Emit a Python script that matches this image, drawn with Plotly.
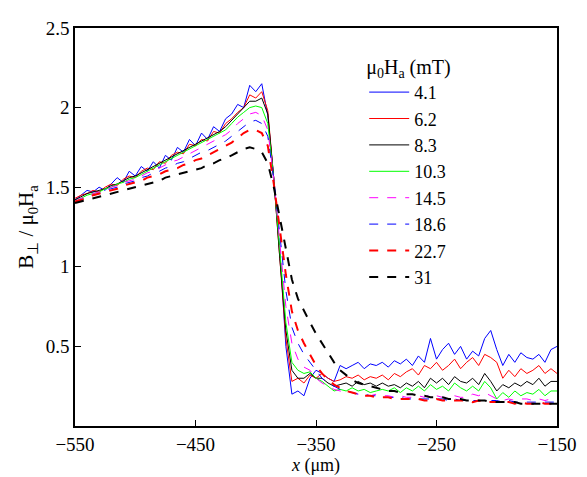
import numpy as np
import plotly.graph_objects as go

x_um = list(range(-550, -149, 5))

b_4_1 = [1.42,1.45,1.48,1.47,1.50,1.48,1.52,1.56,1.53,1.60,
         1.57,1.63,1.60,1.66,1.62,1.70,1.67,1.75,1.72,1.80,
         1.76,1.84,1.80,1.88,1.85,1.93,1.96,2.02,2.00,2.14,
         2.10,2.15,1.95,1.55,1.10,0.50,0.20,0.22,0.19,0.30,
         0.35,0.33,0.30,0.28,0.38,0.36,0.38,0.40,0.36,0.39,
         0.38,0.40,0.37,0.41,0.39,0.42,0.38,0.44,0.40,0.55,
         0.42,0.48,0.52,0.45,0.50,0.42,0.47,0.44,0.55,0.60,
         0.48,0.38,0.45,0.40,0.46,0.43,0.42,0.45,0.40,0.48,
         0.50]
b_6_2 = [1.43,1.45,1.46,1.48,1.47,1.50,1.52,1.51,1.55,1.57,
         1.56,1.60,1.62,1.61,1.66,1.65,1.70,1.72,1.71,1.77,
         1.76,1.80,1.79,1.85,1.84,1.90,1.93,1.97,2.00,2.08,
         2.06,2.10,1.98,1.55,1.05,0.55,0.28,0.30,0.27,0.32,
         0.30,0.33,0.30,0.28,0.29,0.31,0.30,0.32,0.29,0.31,
         0.30,0.32,0.29,0.33,0.31,0.34,0.36,0.32,0.38,0.36,
         0.40,0.35,0.38,0.42,0.36,0.40,0.43,0.38,0.45,0.43,
         0.40,0.30,0.35,0.31,0.36,0.33,0.35,0.38,0.33,0.36,
         0.33]
b_8_3 = [1.42,1.44,1.46,1.47,1.48,1.49,1.51,1.52,1.54,1.56,
         1.57,1.59,1.61,1.63,1.65,1.67,1.69,1.71,1.73,1.75,
         1.77,1.79,1.81,1.83,1.85,1.88,1.92,1.96,2.00,2.04,
         2.04,2.06,1.96,1.55,1.05,0.60,0.35,0.30,0.30,0.33,
         0.30,0.30,0.27,0.25,0.26,0.27,0.25,0.28,0.26,0.27,
         0.25,0.27,0.25,0.26,0.24,0.27,0.25,0.28,0.24,0.30,
         0.27,0.30,0.26,0.31,0.28,0.27,0.30,0.26,0.33,0.28,
         0.22,0.26,0.24,0.27,0.25,0.28,0.26,0.30,0.25,0.28,
         0.28]
b_10_3 = [1.41,1.43,1.45,1.46,1.47,1.49,1.50,1.52,1.53,1.55,
          1.56,1.58,1.60,1.62,1.64,1.66,1.68,1.70,1.72,1.74,
          1.76,1.78,1.80,1.82,1.84,1.86,1.90,1.94,1.97,2.00,
          2.01,2.00,1.90,1.55,1.10,0.65,0.40,0.35,0.33,0.34,
          0.30,0.28,0.25,0.22,0.23,0.22,0.24,0.22,0.23,0.21,
          0.22,0.23,0.22,0.24,0.21,0.24,0.22,0.25,0.22,0.26,
          0.23,0.25,0.22,0.27,0.24,0.22,0.25,0.22,0.28,0.24,
          0.17,0.21,0.18,0.22,0.19,0.21,0.20,0.23,0.19,0.22,
          0.22]
b_14_5 = [1.41,1.43,1.44,1.46,1.47,1.48,1.50,1.51,1.53,1.54,
          1.55,1.57,1.59,1.60,1.62,1.64,1.66,1.67,1.69,1.71,
          1.73,1.75,1.77,1.79,1.81,1.83,1.86,1.90,1.93,1.96,
          1.97,1.95,1.86,1.55,1.15,0.75,0.52,0.42,0.37,0.35,
          0.30,0.27,0.25,0.23,0.22,0.21,0.21,0.20,0.20,0.19,
          0.20,0.19,0.19,0.18,0.19,0.18,0.18,0.19,0.18,0.20,
          0.19,0.18,0.18,0.19,0.18,0.18,0.20,0.19,0.21,0.19,
          0.17,0.16,0.17,0.16,0.17,0.17,0.16,0.17,0.16,0.17,
          0.17]
b_18_6 = [1.41,1.42,1.44,1.45,1.46,1.48,1.49,1.50,1.52,1.53,
          1.54,1.56,1.57,1.59,1.60,1.62,1.63,1.65,1.66,1.68,
          1.70,1.72,1.73,1.75,1.77,1.79,1.82,1.85,1.88,1.91,
          1.92,1.90,1.82,1.55,1.20,0.85,0.62,0.52,0.45,0.40,
          0.35,0.30,0.27,0.25,0.23,0.22,0.21,0.20,0.20,0.19,
          0.19,0.18,0.18,0.18,0.18,0.17,0.17,0.17,0.17,0.17,
          0.17,0.17,0.16,0.17,0.16,0.16,0.16,0.16,0.16,0.16,
          0.16,0.15,0.16,0.15,0.15,0.15,0.15,0.15,0.15,0.15,
          0.15]
b_22_7 = [1.41,1.42,1.43,1.45,1.46,1.47,1.48,1.49,1.51,1.52,
          1.53,1.54,1.56,1.57,1.58,1.60,1.61,1.62,1.64,1.65,
          1.67,1.68,1.70,1.72,1.74,1.76,1.78,1.81,1.84,1.86,
          1.86,1.84,1.76,1.52,1.25,0.95,0.72,0.60,0.52,0.45,
          0.38,0.33,0.29,0.26,0.24,0.22,0.21,0.20,0.19,0.19,
          0.18,0.18,0.18,0.17,0.17,0.17,0.17,0.17,0.16,0.16,
          0.17,0.16,0.16,0.16,0.16,0.16,0.15,0.16,0.15,0.15,
          0.15,0.15,0.15,0.14,0.15,0.14,0.14,0.15,0.14,0.14,
          0.14]
b_31 = [1.40,1.41,1.42,1.43,1.44,1.45,1.46,1.47,1.48,1.49,
        1.50,1.51,1.52,1.53,1.54,1.56,1.57,1.58,1.59,1.60,
        1.61,1.62,1.64,1.65,1.67,1.68,1.70,1.72,1.74,1.75,
        1.74,1.72,1.65,1.50,1.30,1.10,0.92,0.80,0.72,0.65,
        0.58,0.52,0.46,0.40,0.35,0.32,0.29,0.27,0.26,0.25,
        0.24,0.23,0.22,0.22,0.21,0.20,0.20,0.19,0.19,0.18,
        0.18,0.18,0.17,0.17,0.17,0.16,0.16,0.16,0.16,0.15,
        0.15,0.15,0.15,0.15,0.14,0.14,0.14,0.14,0.14,0.14,
        0.14]

fields = ['4.1', '6.2', '8.3', '10.3', '14.5', '18.6', '22.7', '31']
series = [b_4_1, b_6_2, b_8_3, b_10_3, b_14_5, b_18_6, b_22_7, b_31]
# colour, width, dash
styles = [('#0000ff', 1, 'solid'), ('#ff0000', 1, 'solid'), ('#000000', 1, 'solid'),
          ('#00ff00', 1, 'solid'), ('#ff00ff', 1, 'dash'), ('#0000ff', 1, 'dash'),
          ('#ff0000', 2, 'dash'), ('#000000', 2, 'dash')]

fig = go.Figure()
for name, y, (c, w, d) in zip(fields, series, styles):
    fig.add_trace(go.Scatter(x=x_um, y=y, mode='lines', name=name,
                             line=dict(color=c, width=w, dash=d)))

axis_style = dict(showline=True, linecolor='black', linewidth=1.5, mirror=True,
                  ticks='inside', ticklen=6, tickcolor='black', showgrid=False,
                  zeroline=False, tickfont=dict(size=19))
fig.update_xaxes(range=[-550, -150], tickvals=[-550, -450, -350, -250, -150],
                 ticktext=['\u2212550', '\u2212450', '\u2212350', '\u2212250', '\u2212150'],
                 title=dict(text='<i>x</i> (\u03bcm)', font=dict(size=18), standoff=0),
                 **axis_style)
fig.update_yaxes(range=[0.0, 2.5], tickvals=[0.5, 1, 1.5, 2, 2.5],
                 ticktext=['0.5', '1', '1.5', '2', '2.5'],
                 title=dict(text='B<sub>\u22a5</sub> / \u03bc<sub>0</sub>H<sub>a</sub>',
                            font=dict(size=21), standoff=6),
                 **axis_style)
# page body adds an 8px margin, so the figure is a bit smaller than the window
fig.update_layout(width=579, height=469, plot_bgcolor='white', paper_bgcolor='white',
                  margin=dict(l=67, r=24, t=10, b=41),
                  font=dict(family='Times New Roman', color='black'),
                  legend=dict(x=0.6, y=0.95, xanchor='left', yanchor='top',
                              bgcolor='rgba(0,0,0,0)', font=dict(size=18),
                              tracegroupgap=0, itemwidth=40,
                              title=dict(text='\u03bc<sub>0</sub>H<sub>a</sub> (mT)',
                                         font=dict(size=20))))
fig.write_html("out.html")
